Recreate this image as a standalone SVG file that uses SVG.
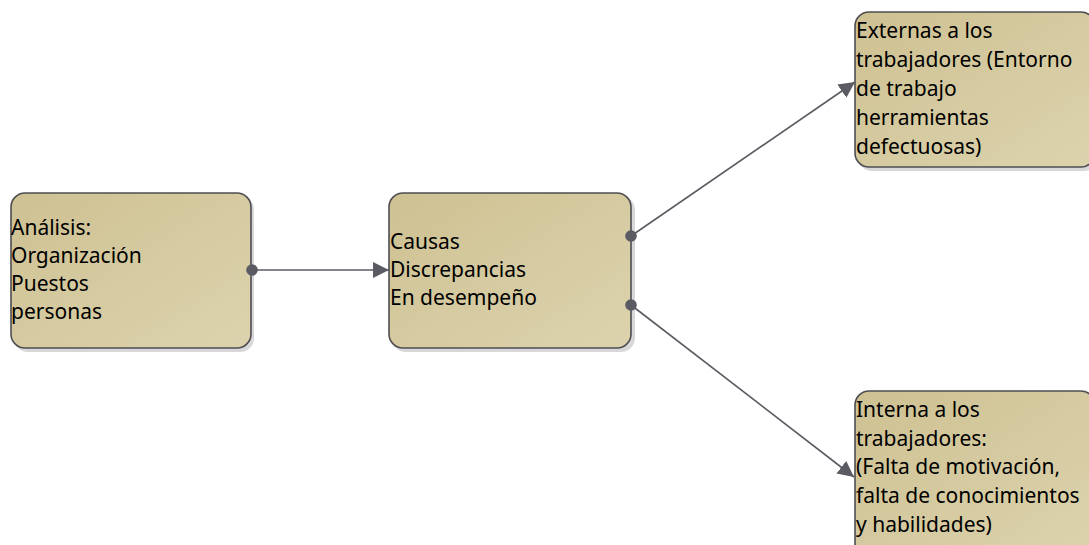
<svg xmlns="http://www.w3.org/2000/svg" width="1089" height="545" viewBox="0 0 1089 545">
  <defs>
    <linearGradient id="boxFill" x1="0" y1="0" x2="1" y2="1">
      <stop offset="0" stop-color="#cec192"/>
      <stop offset="1" stop-color="#dcd3ae"/>
    </linearGradient>
    <marker id="arrow" viewBox="0 0 16 16" refX="16" refY="8" markerWidth="16" markerHeight="16" markerUnits="userSpaceOnUse" orient="auto">
      <path d="M0,0 L16,8 L0,16 Z" fill="#5b5b63"/>
    </marker>
    <marker id="dot" viewBox="0 0 12 12" refX="6" refY="6" markerWidth="12" markerHeight="12" markerUnits="userSpaceOnUse">
      <circle cx="6" cy="6" r="5.8" fill="#5b5b63"/>
    </marker>
  </defs>
  <style>
    .shadow { fill: #c8c8cc; opacity: 0.7; }
    .box { fill: url(#boxFill); stroke: #4e4e52; stroke-width: 1.6; }
    .label { font-family: "Noto Sans", "Open Sans", sans-serif; font-size: 21px; fill: #000; }
    .conn { stroke: #5b5b63; stroke-width: 1.6; fill: none; marker-start: url(#dot); marker-end: url(#arrow); }
  </style>

  <rect width="1089" height="545" fill="#ffffff"/>

  <g id="analisis">
    <rect class="shadow" x="14" y="196" width="240" height="156" rx="14"/>
    <rect class="box" x="11" y="193" width="240" height="155" rx="14"/>
    <text class="label" x="11" y="235">
      <tspan x="11" y="235">Análisis:</tspan>
      <tspan x="11" y="263">Organización</tspan>
      <tspan x="11" y="291">Puestos</tspan>
      <tspan x="11" y="319">personas</tspan>
    </text>
  </g>

  <g id="causas">
    <rect class="shadow" x="392" y="196" width="243" height="156" rx="14"/>
    <rect class="box" x="389" y="193" width="242" height="155" rx="14"/>
    <text class="label" x="390" y="249">
      <tspan x="390" y="249">Causas</tspan>
      <tspan x="390" y="277">Discrepancias</tspan>
      <tspan x="390" y="305">En desempeño</tspan>
    </text>
  </g>

  <g id="externas">
    <rect class="shadow" x="858" y="15" width="240" height="156" rx="14"/>
    <rect class="box" x="855" y="12" width="240" height="155" rx="14"/>
    <text class="label" x="856" y="38">
      <tspan x="856" y="38">Externas a los</tspan>
      <tspan x="856" y="67">trabajadores (Entorno</tspan>
      <tspan x="856" y="96">de trabajo</tspan>
      <tspan x="856" y="125">herramientas</tspan>
      <tspan x="856" y="154">defectuosas)</tspan>
    </text>
  </g>

  <g id="internas">
    <rect class="shadow" x="858" y="394" width="240" height="170" rx="14"/>
    <rect class="box" x="855" y="391" width="240" height="170" rx="14"/>
    <text class="label" x="856" y="417">
      <tspan x="856" y="417">Interna a los</tspan>
      <tspan x="856" y="446">trabajadores:</tspan>
      <tspan x="856" y="474">(Falta de motivación,</tspan>
      <tspan x="856" y="503">falta de conocimientos</tspan>
      <tspan x="856" y="532">y habilidades)</tspan>
    </text>
  </g>

  <g id="connectors">
    <line class="conn" x1="252" y1="270" x2="389" y2="270"/>
    <line class="conn" x1="631" y1="236" x2="855" y2="82"/>
    <line class="conn" x1="631" y1="305" x2="854" y2="477"/>
  </g>
</svg>
